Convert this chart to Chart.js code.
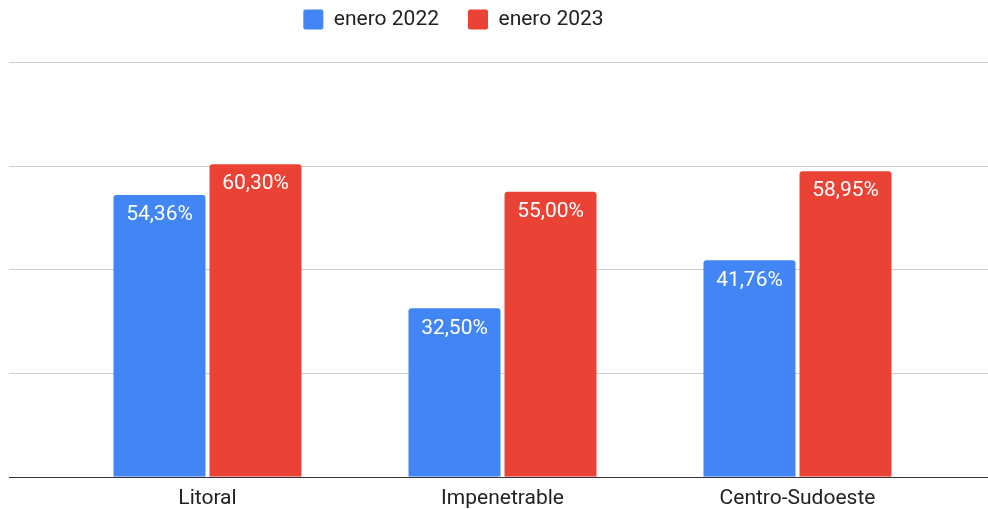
<!DOCTYPE html>
<html>
<head>
<meta charset="utf-8">
<script src="https://cdn.jsdelivr.net/npm/chart.js@4/dist/chart.umd.min.js"></script>
<style>
  html, body { margin: 0; padding: 0; background: #fff; }
  #wrap { width: 988px; height: 509px; }
</style>
</head>
<body>
<div id="wrap"><canvas id="chart" width="988" height="509"></canvas></div>
<script>
const categories = ['Litoral', 'Impenetrable', 'Centro-Sudoeste'];
const seriesNames = ['enero 2022', 'enero 2023'];
const values2022 = [54.36, 32.50, 41.76];
const values2023 = [60.30, 55.00, 58.95];
const yTicks = [0, 20, 40, 60, 80];

const colors = ['#4285F4', '#EA4335'];

// horizontal grid and baseline drawn across the full width
const wideGrid = {
    id: 'wideGrid',
    beforeDatasetsDraw(chart) {
        const ctx = chart.ctx;
        const y = chart.scales.y;
        ctx.save();
        yTicks.forEach(t => {
            const py = Math.round(y.getPixelForValue(t)) + 0.5;
            ctx.beginPath();
            ctx.strokeStyle = t === 0 ? '#333333' : '#cccccc';
            ctx.lineWidth = 1;
            ctx.moveTo(9, py);
            ctx.lineTo(988, py);
            ctx.stroke();
        });
        ctx.restore();
    }
};

const barLabels = {
    id: 'barLabels',
    afterDatasetsDraw(chart) {
        const ctx = chart.ctx;
        ctx.save();
        ctx.font = '21px Roboto';
        ctx.fillStyle = '#ffffff';
        ctx.textAlign = 'center';
        ctx.textBaseline = 'middle';
        chart.data.datasets.forEach((ds, i) => {
            chart.getDatasetMeta(i).data.forEach((bar, j) => {
                const txt = ds.data[j].toFixed(2).replace('.', ',') + '%';
                ctx.fillText(txt, bar.x, bar.y + 20);
            });
        });
        ctx.restore();
    }
};

// legend sits a bit left of the plot centre, like the original
const legendShift = {
    id: 'legendShift',
    afterLayout(chart) {
        const lg = chart.legend;
        lg.left -= 49;
        lg.right -= 49;
        lg.top -= 22;
        lg.bottom -= 22;
    }
};

new Chart(document.getElementById('chart'), {
    type: 'bar',
    data: {
        labels: categories,
        datasets: [
            { label: seriesNames[0], data: values2022, backgroundColor: colors[0] },
            { label: seriesNames[1], data: values2023, backgroundColor: colors[1] }
        ]
    },
    options: {
        responsive: false,
        animation: false,
        layout: { padding: { left: 60, right: 43, top: 2, bottom: -3 } },
        datasets: {
            bar: {
                categoryPercentage: 0.651,
                barPercentage: 0.958,
                borderRadius: { topLeft: 3, topRight: 3 },
                borderSkipped: 'bottom'
            }
        },
        plugins: {
            legend: {
                position: 'top',
                labels: {
                    font: { family: 'Roboto', size: 21 },
                    color: '#222222',
                    boxWidth: 20,
                    boxHeight: 20,
                    padding: 29,
                    useBorderRadius: true,
                    borderRadius: 2
                }
            },
            tooltip: { enabled: false }
        },
        scales: {
            y: {
                display: false,
                min: 0,
                max: 80,
                ticks: { stepSize: 20 }
            },
            x: {
                grid: { display: false },
                border: { display: false },
                ticks: { font: { family: 'Roboto', size: 21 }, color: '#222222', padding: 1 }
            }
        }
    },
    plugins: [wideGrid, barLabels, legendShift]
});
</script>
</body>
</html>
